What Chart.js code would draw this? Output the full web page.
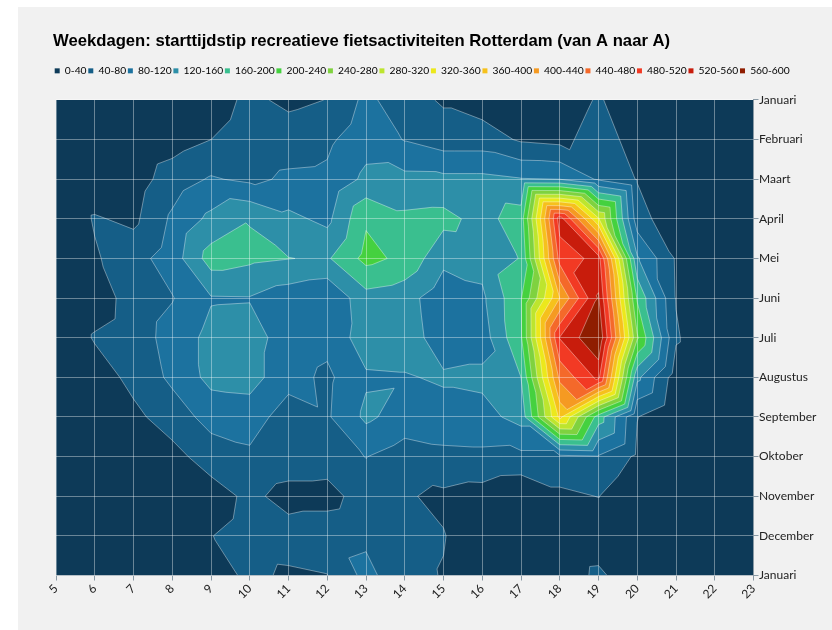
<!DOCTYPE html>
<html>
<head>
<meta charset="utf-8">
<title>Weekdagen</title>
<script src="https://cdn.jsdelivr.net/npm/chart.js@4"></script>
<style>
  body { margin: 0; background: #fff; }
  #bg { position: absolute; left: 18px; top: 7px; right: 0; bottom: 0; background: #f1f1f1; }
  #wrap { position: relative; width: 832px; height: 630px; overflow: hidden; }
  canvas { position: absolute; left: 0; top: 0; }
</style>
</head>
<body>
<div id="wrap">
  <div id="bg"></div>
  <canvas id="canvas" width="832" height="630"></canvas>
</div>
<script>
var titleText = 'Weekdagen: starttijdstip recreatieve fietsactiviteiten Rotterdam (van A naar A)'
var hours = [5, 6, 7, 8, 9, 10, 11, 12, 13, 14, 15, 16, 17, 18, 19, 20, 21, 22, 23]
var months = ['Januari', 'Februari', 'Maart', 'April', 'Mei', 'Juni', 'Juli', 'Augustus', 'September', 'Oktober', 'November', 'December', 'Januari']

// number of rides per hour (column) and month (row)
var jan = [3, 3, 3, 3, 20, 50, 30, 41, 90, 57, 35, 20, 8, 12, 45, 8, 2, 2, 2]
var feb = [2, 3, 8, 22, 40, 60, 63, 72, 105, 78, 60, 60, 35, 28, 60, 23, 3, 0, 0]
var mrt = [2, 8, 20, 60, 84, 72, 86, 88, 129, 131, 130, 130, 122, 120, 75, 38, 2, 0, 0]
var apr = [0, 44, 31, 87, 130, 158, 130, 110, 195, 168, 172, 146, 180, 540, 325, 58, 10, 0, 0]
var mei = [0, 35, 65, 99, 178, 168, 161, 155, 212, 190, 130, 135, 162, 495, 535, 125, 36, 0, 0]
var jun = [0, 18, 58, 78, 117, 118, 98, 85, 145, 135, 96, 112, 197, 400, 564, 195, 38, 0, 0]
var jul = [0, 44, 60, 95, 132, 135, 103, 92, 140, 140, 100, 100, 195, 522, 598, 245, 45, 0, 0]
var aug = [0, 18, 52, 88, 132, 135, 95, 72, 115, 117, 125, 130, 160, 450, 530, 130, 18, 0, 0]
var sep = [0, 5, 30, 60, 94, 100, 60, 75, 128, 102, 105, 105, 135, 370, 180, 41, 2, 0, 0]
var okt = [0, 2, 10, 26, 60, 72, 64, 60, 81, 61, 70, 72, 70, 70, 77, 33, 1, 0, 0]
var nov = [0, 0, 3, 8, 20, 50, 25, 25, 60, 44, 32, 23, 5, 31, 41, 3, 0, 0, 0]
var dec = [0, 0, 3, 8, 39, 55, 58, 65, 72, 50, 42, 12, 5, 6, 10, 3, 0, 0, 0]
var jan2 = [0, 0, 2, 5, 20, 49, 34, 39, 92, 52, 38, 8, 5, 10, 50, 5, 0, 0, 0]
var rows = [jan, feb, mrt, apr, mei, jun, jul, aug, sep, okt, nov, dec, jan2]

// cells (hour, month index) that the reference splits along the other diagonal
var flippedCells = ['9,3', '14,3', '18,5', '18,7', '13,7', '18,2', '19,2', '10,8', '18,0']

var bandLabels = ['0-40', '40-80', '80-120', '120-160', '160-200', '200-240', '240-280', '280-320', '320-360', '360-400', '400-440', '440-480', '480-520', '520-560', '560-600']
var bandLevels = [0, 40, 80, 120, 160, 200, 240, 280, 320, 360, 400, 440, 480, 520, 560]
var bandColors = ['#0d3a58', '#155e87', '#1c729f', '#2d8fa8', '#3abf8f', '#45d13f', '#7fd23f', '#bde52e', '#ece81c', '#f6c11c', '#f59a22', '#f4692a', '#f23a24', '#c81c0c', '#8f1d00']

// Function definition

function cross(a, b, level){
  var t = (level - a.v) / (b.v - a.v)
  return {x: a.x + t * (b.x - a.x), y: a.y + t * (b.y - a.y), v: level}
}

// the part of a triangle at or above level, plus the contour piece through it
function cutTriangle(tri, level, path, lines){
  var poly = []
  var seg = []
  for(var i = 0; i < 3; i++){
    var a = tri[i]
    var b = tri[(i + 1) % 3]
    if(a.v >= level) poly.push(a)
    if((a.v >= level) != (b.v >= level)){
      var c = cross(a, b, level)
      poly.push(c)
      seg.push(c)
    }
  }
  if(poly.length < 3) return
  path.moveTo(poly[0].x, poly[0].y)
  for(var j = 1; j < poly.length; j++) path.lineTo(poly[j].x, poly[j].y)
  path.closePath()
  if(seg.length == 2){
    lines.moveTo(seg[0].x, seg[0].y)
    lines.lineTo(seg[1].x, seg[1].y)
  }
}

// every grid cell is split in two triangles, same winding everywhere
function cellTriangles(chart){
  var xs = chart.scales.x
  var ys = chart.scales.y
  var out = []
  function node(c, r){
    return {x: xs.getPixelForValue(hours[c]), y: ys.getPixelForValue(r), v: rows[r][c]}
  }
  for(var r = 0; r < rows.length - 1; r++){
    for(var c = 0; c < hours.length - 1; c++){
      var tl = node(c, r), tr = node(c + 1, r), br = node(c + 1, r + 1), bl = node(c, r + 1)
      if(flippedCells.indexOf(hours[c] + ',' + r) >= 0){
        out.push([tl, tr, bl])
        out.push([tr, br, bl])
      } else {
        out.push([tl, tr, br])
        out.push([tl, br, bl])
      }
    }
  }
  return out
}

var contourPlugin = {
  id: 'contour',
  beforeInit: function(chart){
    // room between legend and plot
    var fit = chart.legend.fit
    chart.legend.fit = function(){
      fit.call(this)
      this.height += 14
    }
  },
  beforeDatasetsDraw: function(chart){
    var ctx = chart.ctx
    var tris = cellTriangles(chart)
    var area = chart.chartArea
    ctx.save()
    ctx.beginPath()
    ctx.rect(area.left, area.top, area.right - area.left, area.bottom - area.top)
    ctx.clip()
    ctx.fillStyle = bandColors[0]
    ctx.fillRect(area.left, area.top, area.right - area.left, area.bottom - area.top)
    for(var b = 1; b < bandLevels.length; b++){
      var path = new Path2D()
      var lines = new Path2D()
      for(var i = 0; i < tris.length; i++) cutTriangle(tris[i], bandLevels[b], path, lines)
      ctx.fillStyle = bandColors[b]
      ctx.fill(path)
      ctx.strokeStyle = 'rgba(255,255,255,0.38)'
      ctx.lineWidth = 1
      ctx.stroke(lines)
    }
    ctx.restore()
  }
}

// Function definition ends

var points = []
rows.forEach(function(row, r){
  row.forEach(function(v, c){ points.push({x: hours[c], y: r, v: v}) })
})

var ctx = document.getElementById('canvas')
var gridColor = 'rgba(255,255,255,0.38)'
var tickFont = {family: 'Lato', size: 12}

var myChart = new Chart(ctx, {
  type: 'scatter',
  data: {
    datasets: [{label: 'Ritten', data: points, pointRadius: 0, pointHoverRadius: 0}]
  },
  options: {
    responsive: false,
    animation: false,
    events: [],
    layout: {padding: {left: 53, top: 0, right: 0, bottom: 0}},
    plugins: {
      tooltip: {enabled: false},
      title: {
        display: true,
        text: titleText,
        align: 'start',
        color: '#000',
        font: {family: 'Liberation Sans', size: 16.66, weight: 'bold'},
        padding: {top: 31, bottom: 13}
      },
      legend: {
        position: 'top',
        align: 'start',
        labels: {
          boxWidth: 5,
          boxHeight: 5,
          padding: 1.7,
          color: '#222',
          font: {family: 'Lato', size: 10.3},
          generateLabels: function(){
            return bandLabels.map(function(label, i){
              return {text: label, fillStyle: bandColors[i], strokeStyle: bandColors[i], lineWidth: 0, datasetIndex: 0}
            })
          }
        }
      }
    },
    scales: {
      x: {
        type: 'linear',
        position: 'bottom',
        min: 5,
        max: 23,
        grid: {color: gridColor, z: 1, tickColor: '#8a9aa5', tickLength: 5},
        border: {color: '#8a9aa5', z: 1},
        ticks: {
          stepSize: 1,
          autoSkip: false,
          maxRotation: 45,
          minRotation: 45,
          padding: 1,
          color: '#222',
          font: tickFont,
          callback: function(v){ return v }
        },
        afterFit: function(scale){
          scale.height = 54.5
          scale.paddingLeft = 56
        }
      },
      y: {
        type: 'linear',
        position: 'right',
        min: 0,
        max: 12,
        reverse: true,
        grid: {color: gridColor, z: 1, tickColor: '#8a9aa5', tickLength: 5},
        border: {color: '#8a9aa5', z: 1},
        ticks: {
          stepSize: 1,
          autoSkip: false,
          padding: 0.5,
          color: '#222',
          font: tickFont,
          callback: function(v){ return months[v] }
        },
        afterFit: function(scale){
          scale.width = 78.5
        }
      }
    }
  },
  plugins: [contourPlugin]
})
</script>
</body>
</html>
